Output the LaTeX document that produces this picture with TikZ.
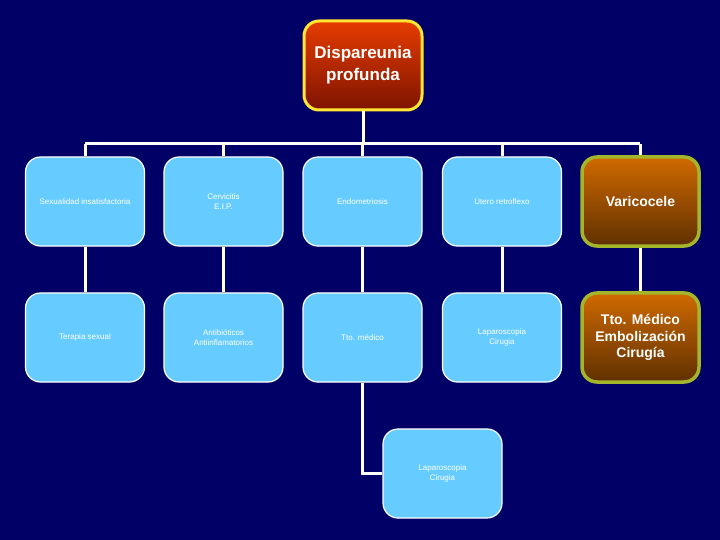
\documentclass[tikz,border=0pt]{standalone}
\usepackage{fontspec}
\setmainfont{Liberation Sans}
\definecolor{bgnavy}{HTML}{000066}
\definecolor{lightbox}{HTML}{66CCFF}
\definecolor{redtop}{HTML}{E63C00}
\definecolor{redbot}{HTML}{7E1400}
\definecolor{orgtop}{HTML}{D06A00}
\definecolor{orgbot}{HTML}{603000}
\definecolor{olive}{HTML}{A3B52A}
\definecolor{yellowb}{HTML}{FFE633}
\begin{document}
\begin{tikzpicture}[x=1bp,y=-1bp,
  conn/.style={draw=white,line width=3bp},
  lbox/.style={rounded corners=15bp,fill=lightbox,draw=white,line width=1.2bp,
    minimum width=119bp,minimum height=89bp,inner sep=2bp,align=center,text=white,
    font=\fontsize{8bp}{9.5bp}\selectfont},
  obox/.style={rounded corners=15bp,top color=orgtop,bottom color=orgbot,draw=olive,line width=3.5bp,
    minimum width=117bp,minimum height=89bp,inner sep=2bp,align=center,text=white,
    font=\fontsize{14bp}{16.5bp}\selectfont\bfseries},
  tbox/.style={rounded corners=15bp,top color=redtop,bottom color=redbot,draw=yellowb,line width=3bp,
    minimum width=118bp,minimum height=89bp,inner sep=2bp,align=center,text=white,
    font=\fontsize{17bp}{22bp}\selectfont\bfseries}]
\useasboundingbox (0,0) rectangle (720,540);
\fill[bgnavy] (0,0) rectangle (720,540);
% nodes
\node[tbox] (top) at (363,65.5) {Dispareunia\\profunda};
\node[lbox] (a1) at (85,201.5) {Sexualidad insatisfactoria};
\node[lbox] (a2) at (223.5,201.5) {Cervicitis\\E.I.P.};
\node[lbox] (a3) at (362.5,201.5) {Endometriosis};
\node[lbox] (a4) at (502,201.5) {Utero retroflexo};
\node[obox] (a5) at (640.5,201.5) {Varicocele};
\node[lbox] (b1) at (85,337.5) {Terapia sexual};
\node[lbox] (b2) at (223.5,337.5) {Antibióticos\\Antiinflamatorios};
\node[lbox] (b3) at (362.5,337.5) {Tto. médico};
\node[lbox] (b4) at (502,337.5) {Laparoscopia\\Cirugia};
\node[obox] (b5) at (640.5,337.5) {Tto. Médico\\Embolización\\Cirugía};
\node[lbox] (c) at (442.5,473.5) {Laparoscopia\\Cirugia};
% connectors
\coordinate (busL) at (85,144);
\coordinate (busR) at (640,144);
\draw[conn] (busL) -- (busR);
\draw[conn] (top.south) -- (top.south |- busL);
\foreach \n in {a1,a2,a3,a4,a5}{\draw[conn] (\n.north) -- (\n.north |- busL);}
\foreach \i in {1,...,5}{\draw[conn] (a\i.south) -- (b\i.north);}
\draw[conn] (b3.south) |- (c.west);
\end{tikzpicture}
\end{document}
